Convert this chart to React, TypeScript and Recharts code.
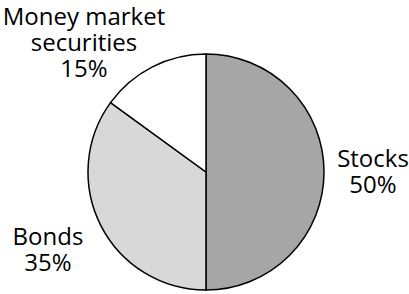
import React from "react";
import { PieChart, Pie, Cell } from "recharts";

const categories = ["Stocks", "Bonds", "Money market securities"];
const shares = [50, 35, 15];
const labelLines = [["Stocks", "50%"], ["Bonds", "35%"], ["Money market", "securities", "15%"]];

const data = categories.map((name, i) => ({ name, value: shares[i], lines: labelLines[i] }));

const fills = ["#a6a6a6", "#d8d8d8", "#ffffff"];
// label anchor offsets relative to the pie centre (layout only)
const labelOffsets = [
  { dx: 167, dy: -5 },
  { dx: -158, dy: 73 },
  { dx: -122, dy: -147 },
];
const LINE_H = 26;

const renderLabel = (props: any) => {
  const { cx, cy, index } = props;
  const entry = data[index];
  const off = labelOffsets[index];
  const x = cx + off.dx;
  const y = cy + off.dy;
  return (
    <g>
      {entry.lines.map((l: string, i: number) => (
        <text
          key={i}
          x={x}
          y={y + i * LINE_H}
          textAnchor="middle"
          fontFamily="'Open Sans', sans-serif"
          fontSize={24}
          fill="#000"
        >
          {l}
        </text>
      ))}
    </g>
  );
};

export default function App() {
  return (
    <div style={{ position: "absolute", left: 0, top: 0, width: 409, height: 294, background: "#fff" }}>
      <PieChart width={409} height={294} margin={{ top: 0, right: 0, bottom: 0, left: 0 }}>
        <Pie
          data={data}
          dataKey="value"
          nameKey="name"
          cx={206}
          cy={172}
          outerRadius={118}
          startAngle={90}
          endAngle={-270}
          stroke="#000"
          strokeWidth={1.5}
          label={renderLabel}
          labelLine={false}
          isAnimationActive={false}
        >
          {data.map((d, i) => (
            <Cell key={d.name} fill={fills[i]} />
          ))}
        </Pie>
      </PieChart>
    </div>
  );
}
